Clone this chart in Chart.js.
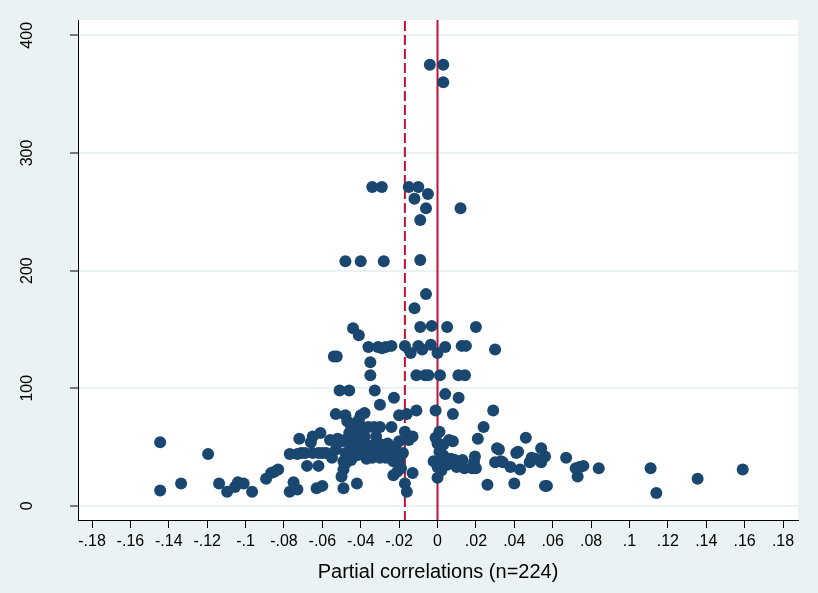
<!DOCTYPE html>
<html>
<head>
<meta charset="utf-8">
<script src="https://cdn.jsdelivr.net/npm/chart.js@4"></script>
<style>
  html, body { margin: 0; padding: 0; background: #eaf2f3; }
  #wrap { width: 818px; height: 593px; }
</style>
</head>
<body>
<div id="wrap"><canvas id="funnel" width="818" height="593"></canvas></div>
<script>
// partial correlations (x) and sample size (y)
const partialCorr = [
  -0.004, 0.003, 0.003, -0.034, -0.029, -0.015, -0.010, -0.005, -0.012, -0.006,
  0.012, -0.009, -0.048, -0.040, -0.028, -0.009, -0.006, -0.012, -0.044, -0.041,
  -0.009, -0.003, 0.005, 0.020, -0.036, -0.031, -0.029, -0.027, -0.024, -0.017,
  -0.014, -0.010, -0.008, -0.0035, 0.000, 0.004, 0.0126, 0.0148, 0.030, -0.054,
  -0.0525, -0.035, -0.035, -0.011, -0.0065, -0.0048, 0.0013, 0.0109, 0.0143,
  -0.051, -0.046, -0.0327, -0.0227, 0.004, 0.011, -0.030, -0.020, -0.016, -0.011,
  -0.001, 0.008, 0.029, -0.053, -0.048, -0.040, -0.038, 0.024,
  -0.047, -0.045, -0.041, -0.039, -0.036, -0.033, -0.030, -0.024, -0.052, -0.047,
  -0.044, -0.038, -0.032, -0.046, -0.042, -0.037, -0.033, -0.026, -0.048, -0.045,
  -0.040, -0.036, -0.032, -0.028, -0.025, -0.021, -0.049, -0.045, -0.037, -0.023,
  -0.020, -0.019, -0.049, -0.050, -0.048, -0.042, -0.023, -0.021, -0.017, -0.013,
  -0.015, -0.017, -0.016, -0.013,
  -0.043, -0.041, -0.039, -0.035, -0.044, -0.042, -0.034, -0.030, -0.027, -0.029,
  -0.046, -0.043, -0.040, -0.022, -0.018, -0.050, -0.046, -0.038, -0.031, -0.020,
  0.001, 0.000, -0.002, 0.000, 0.000, 0.003, 0.008, 0.005, 0.008, 0.003,
  0.006, 0.002, 0.005, 0.010, 0.013, 0.014, 0.018, 0.0195, 0.020, 0.019,
  0.021, 0.026, 0.032, 0.031, 0.033, 0.030, 0.034, 0.038, 0.041, 0.042,
  0.040, 0.043, 0.046, 0.048, 0.049, 0.051, 0.054, 0.054, 0.056, 0.056,
  0.057, 0.067, 0.072, 0.074, 0.076, 0.073, 0.084, 0.111, 0.114, 0.1355,
  0.159, 0.009, 0.001, -0.001, 0.002, 0.007,
  -0.1445, -0.1445, -0.1336, -0.1195, -0.1138, -0.1096, -0.1055, -0.104, -0.101, -0.0966,
  -0.0893, -0.0867, -0.083, -0.077, -0.073, -0.072, -0.075, -0.077, -0.073, -0.065,
  -0.061, -0.066, -0.069, -0.065, -0.062, -0.060, -0.055, -0.068, -0.062, -0.063,
  -0.060, -0.049, -0.071, -0.058, -0.056, -0.053, -0.085
];
const sampleSize = [
  375, 375, 360, 271, 271, 271, 271, 265, 261, 253,
  253, 243, 208, 208, 208, 209, 180, 168, 151, 145,
  152, 153, 152, 152, 135, 135, 134, 135, 136, 136,
  130, 136, 133, 137, 130, 135, 136, 136, 133, 127,
  127, 122, 111, 111, 111, 111, 111, 111, 111,
  98, 98, 98, 92, 95, 92, 86, 77, 78, 81,
  81, 78, 81, 78, 77, 77, 79, 67,
  72, 67, 73, 67, 67, 67, 67, 67, 57, 57,
  59, 59, 59, 53, 52, 52, 52, 53, 45, 45,
  44, 43, 45, 45, 44, 45, 38, 39, 40, 38,
  38, 32, 31, 25, 36, 19, 26, 29, 63, 59,
  56, 19, 12, 28,
  48, 56, 47, 48, 63, 43, 41, 41, 41, 52,
  62, 70, 62, 49, 45, 55, 43, 44, 44, 55,
  63, 53, 38, 33, 24, 43, 55, 38, 36, 52,
  56, 41, 35, 33, 39, 32, 32, 42, 32, 37,
  57, 18, 48, 49, 38, 37, 37, 33, 45, 46,
  19, 31, 58, 37, 41, 40, 49, 37, 42, 17,
  17, 41, 32, 33, 34, 25, 32, 32, 11, 23,
  31, 39, 46, 58, 30, 40,
  54, 13, 19, 44, 19, 12, 16, 20, 19, 12,
  23, 28, 31, 44, 44, 57, 20, 12, 14, 59,
  62, 54, 45, 45, 45, 45, 41, 34, 34, 15,
  17, 15, 45, 45, 56, 48, 29
];

const xTicks = [-0.18, -0.16, -0.14, -0.12, -0.1, -0.08, -0.06, -0.04, -0.02, 0,
  0.02, 0.04, 0.06, 0.08, 0.1, 0.12, 0.14, 0.16, 0.18];
const xTickLabels = ["-.18", "-.16", "-.14", "-.12", "-.1", "-.08", "-.06", "-.04", "-.02", "0",
  ".02", ".04", ".06", ".08", ".1", ".12", ".14", ".16", ".18"];
const yTicks = [0, 100, 200, 300, 400];
const yTickLabels = ["0", "100", "200", "300", "400"];

const meanLine = -0.017; // dashed
const zeroLine = 0;      // solid

const points = partialCorr.map((x, i) => ({ x: x, y: sampleSize[i] }));
const FONT = 'Arial, "Liberation Sans", sans-serif';
const RED = "#c50f35";

// background + white plot region
const bgPlugin = {
  id: "bg",
  beforeDraw(chart) {
    const { ctx, chartArea: a } = chart;
    ctx.save();
    ctx.fillStyle = "#eaf2f3";
    ctx.fillRect(0, 0, chart.width, chart.height);
    ctx.fillStyle = "#ffffff";
    ctx.fillRect(a.left, a.top, a.right - a.left, a.bottom - a.top);
    ctx.restore();
  },
};

// vertical reference lines, under the markers
const refLines = {
  id: "refLines",
  beforeDatasetsDraw(chart) {
    const { ctx, chartArea: a, scales } = chart;
    ctx.save();
    ctx.strokeStyle = RED;
    ctx.lineWidth = 2;
    let px = scales.x.getPixelForValue(zeroLine);
    ctx.beginPath();
    ctx.moveTo(px, a.top);
    ctx.lineTo(px, a.bottom);
    ctx.stroke();
    px = scales.x.getPixelForValue(meanLine);
    ctx.setLineDash([10, 4]);
    ctx.beginPath();
    ctx.moveTo(px, a.top + 1);
    ctx.lineTo(px, a.bottom);
    ctx.stroke();
    ctx.restore();
  },
};

// rotated y tick labels (Stata style)
const yLabels = {
  id: "yLabels",
  afterDraw(chart) {
    const { ctx, scales } = chart;
    ctx.save();
    ctx.fillStyle = "#000";
    ctx.font = "16px " + FONT;
    ctx.textAlign = "center";
    ctx.textBaseline = "middle";
    yTicks.forEach((v, i) => {
      const py = scales.y.getPixelForValue(v);
      ctx.save();
      ctx.translate(28, py);
      ctx.rotate(-Math.PI / 2);
      ctx.fillText(yTickLabels[i], 0, 0);
      ctx.restore();
    });
    ctx.restore();
  },
};

new Chart(document.getElementById("funnel"), {
  type: "scatter",
  data: {
    datasets: [
      {
        data: points,
        backgroundColor: "#1a476f",
        borderColor: "#1a476f",
        borderWidth: 0,
        pointRadius: 6,
        pointHoverRadius: 6,
      },
    ],
  },
  options: {
    responsive: false,
    animation: false,
    events: [],
    layout: { padding: { top: 20, right: 20, bottom: 9, left: 0 } },
    plugins: {
      legend: { display: false },
      tooltip: { enabled: false },
    },
    scales: {
      x: {
        type: "linear",
        min: -0.1873,
        max: 0.1878,
        afterBuildTicks: (scale) => {
          scale.ticks = xTicks.map((v) => ({ value: v }));
        },
        afterFit: (scale) => {
          scale.height = 64;
        },
        grid: {
          drawOnChartArea: false,
          color: "#000",
          tickColor: "#000",
          tickLength: 8,
          tickWidth: 1,
        },
        border: { color: "#000", width: 1 },
        ticks: {
          autoSkip: false,
          maxRotation: 0,
          padding: 4,
          color: "#000",
          font: { family: FONT, size: 16 },
          callback: (value, index) => xTickLabels[index],
        },
        title: {
          display: true,
          text: "Partial correlations (n=224)",
          color: "#000",
          font: { family: FONT, size: 20 },
          padding: 0,
        },
      },
      y: {
        type: "linear",
        min: -12,
        max: 413,
        afterBuildTicks: (scale) => {
          scale.ticks = yTicks.map((v) => ({ value: v }));
        },
        afterFit: (scale) => {
          scale.width = 78;
        },
        grid: {
          color: "#eaf2f3",
          lineWidth: 2,
          tickColor: "#000",
          tickLength: 8,
          tickWidth: 1,
        },
        border: { color: "#000", width: 1 },
        ticks: { display: false },
      },
    },
  },
  plugins: [bgPlugin, refLines, yLabels],
});
</script>
</body>
</html>
